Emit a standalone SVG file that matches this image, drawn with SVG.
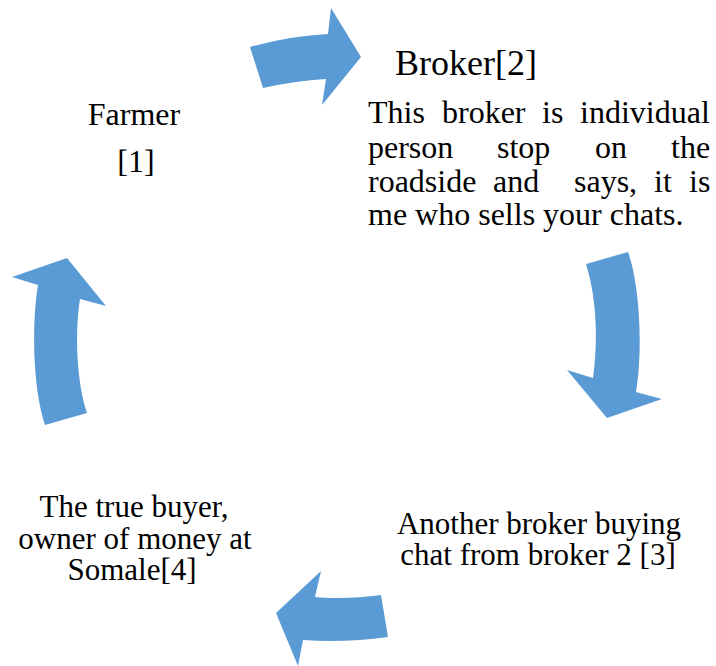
<svg xmlns="http://www.w3.org/2000/svg" width="716" height="666" viewBox="0 0 716 666">
<style>
.t{font-family:"Liberation Serif","Times New Roman",serif;font-size:32px;fill:#000}
.s{font-size:31px}
.c{text-anchor:middle}
.arr{fill:#5B9BD5;stroke:none}
</style>
<rect width="716" height="666" fill="#fff"/>
<g id="connectors">
<path class="arr" d="M250,47 Q289,36 328,34 L331,8 L361,57 L322,105 L326,79 Q294,81 263,88 Z"/>
<path class="arr" d="M586,264 L628,252 C640,285 643,350 636,392 L662,399 L607,418 L567,370 L593,378 C598,340 597,300 586,264 Z"/>
<path class="arr" d="M381,595 L388,637 C360,641 330,642 303,640 L298,666 L276,613 L321,571 L315,597 C335,599 360,598 381,595 Z"/>
<path class="arr" d="M45,425 L87,413 C76,380 75,330 80,299 L106,306 L67,258 L12,277 L38,285 C32,320 32,385 45,425 Z"/>
</g>
<g id="farmer">
<text class="t c" x="134" y="125">Farmer</text>
<text class="t c" x="136" y="172">[1]</text>
</g>
<g id="broker2">
<text class="t" x="395" y="75" style="font-size:36px">Broker[2]</text>
<text class="t" y="123"><tspan x="368">This</tspan><tspan x="442">broker</tspan><tspan x="542">is</tspan><tspan x="580">individual</tspan></text>
<text class="t" y="158"><tspan x="368">person</tspan><tspan x="497">stop</tspan><tspan x="595">on</tspan><tspan x="671">the</tspan></text>
<text class="t" y="192"><tspan x="368">roadside</tspan><tspan x="493">and</tspan><tspan x="574">says,</tspan><tspan x="654">it</tspan><tspan x="689">is</tspan></text>
<text class="t" x="368" y="225">me who sells your chats.</text>
</g>
<g id="broker3">
<text class="t s c" x="539" y="534">Another broker buying</text>
<text class="t s c" x="538" y="565">chat from broker 2 [3]</text>
</g>
<g id="buyer4">
<text class="t s c" x="134" y="517">The true buyer,</text>
<text class="t s c" x="135" y="549">owner of money at</text>
<text class="t s c" x="132" y="580">Somale[4]</text>
</g>
</svg>
